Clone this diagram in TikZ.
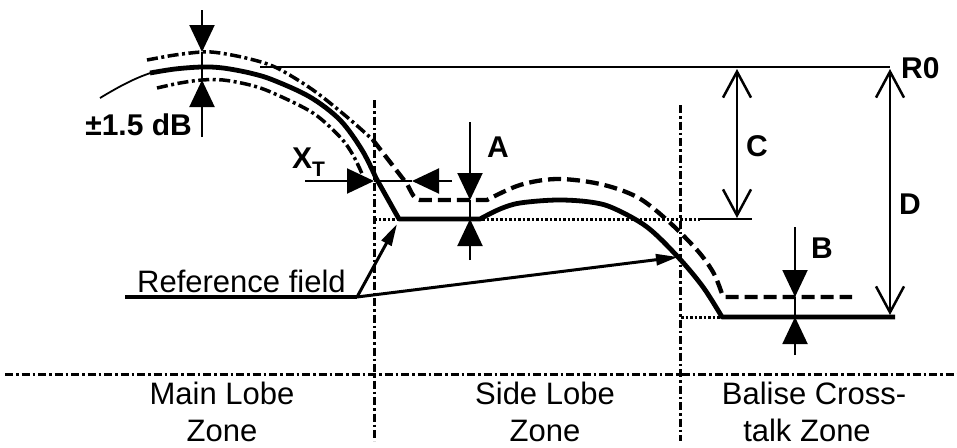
\documentclass[tikz,border=0pt]{standalone}
\usepackage{fontspec}
\setmainfont{Liberation Sans}
\usetikzlibrary{arrows.meta}
\begin{document}
\begin{tikzpicture}[x=1pt,y=-1pt,
  mainline/.style={line width=4.8pt,line join=round},
  thinline/.style={line width=1.8pt},
  envline/.style={line width=3.5pt,dash pattern=on 11pt off 3.5pt on 3pt off 3.5pt},
  dashline/.style={line width=4.3pt,dash pattern=on 13pt off 6pt,line join=round},
  zoneline/.style={line width=3pt,dash pattern=on 8pt off 3pt on 2.5pt off 3pt},
  dotline/.style={line width=3pt,dash pattern=on 2.5pt off 2pt},
  dimline/.style={line width=2pt,-{Triangle[length=27pt,width=25pt]}},
  linkline/.style={line width=2pt},
  openarrow/.style={line width=2.5pt,{Straight Barb[length=26pt,width=28pt]}-{Straight Barb[length=26pt,width=28pt]}},
  refarrow/.style={line width=3pt,-{Triangle[length=22pt,width=11pt]}},
  lbl/.style={font=\fontsize{30}{32}\selectfont\bfseries,inner sep=0pt},
  zonetext/.style={font=\fontsize{31}{36}\selectfont,inner sep=0pt,anchor=base},
  reftext/.style={font=\fontsize{31}{36}\selectfont,inner sep=0pt,anchor=base west}]
\useasboundingbox (0,0) rectangle (957,447);

% zone separators
\coordinate (zl1) at (5,374);  \coordinate (zl2) at (957,374);
\coordinate (v1a) at (374,100); \coordinate (v1b) at (374,441);
\coordinate (v2a) at (680,105); \coordinate (v2b) at (680,441);
\draw[zoneline] (zl1) -- (zl2);
\draw[zoneline] (v1a) -- (v1b);
\draw[zoneline] (v2a) -- (v2b);

% reference levels
\coordinate (r0a) at (260,67); \coordinate (r0b) at (890,67);
\draw[linkline] (r0a) -- (r0b);
\coordinate (d1a) at (374,219); \coordinate (d1b) at (700,219); \coordinate (d1c) at (752,219);
\draw[dotline] (d1a) -- (d1b);
\draw[linkline] (d1b) -- (d1c);
\coordinate (d2a) at (681,317); \coordinate (d2b) at (722,317);
\draw[dotline] (d2a) -- (d2b);

% tolerance envelope
\draw[envline] plot[smooth,tension=0.55] coordinates {(147,60)(175,55)(202,52)(220,53)(250,59)(277,68)(313,90)(347,117)(373,140)};
\draw[envline] plot[smooth,tension=0.55] coordinates {(157,88)(180,83)(202,80)(223,80)(250,85)(273,93)(313,113)(340,137)(353,155)(363,176)};

% dashed limit curve
\draw[dashline] (373,140) -- (407,184) .. controls (412,193) and (414,200) .. (420,200) -- (487,200)
  -- plot[smooth,tension=0.55] coordinates {(487,200)(520,185)(557,179)(600,184)(637,197)(667,220)(697,250)(713,272)(721,291)}
  .. controls (723,297) .. (729,297) -- (852,297);

% main field curve
\draw[thinline] (100,98) .. controls (120,86) and (135,78) .. (152,72.5);
\draw[mainline] plot[smooth,tension=0.55] coordinates {(150,73)(175,69)(202,67)(223,68)(250,73)(273,80)(310,97)(340,120)(362,150)(376,178)}
  -- (399,219) -- (480,219)
  -- plot[smooth,tension=0.55] coordinates {(480,219)(500,209)(520,203)(557,200)(590,202)(613,208)(647,227)(678,257)(703,287)(722,317)}
  -- (895,317);

% +-1.5 dB
\coordinate (pt0) at (202,10); \coordinate (pt1) at (202,52);
\coordinate (pb0) at (202,137); \coordinate (pb1) at (202,80);
\draw[dimline] (pt0) -- (pt1);
\draw[dimline] (pb0) -- (pb1);
\draw[linkline] (pt1) -- (pb1);
\node[lbl,anchor=base east] (pmlbl) at (192,135) {±1.5 dB};

% X_T
\coordinate (xl0) at (305,181); \coordinate (xl1) at (374,181);
\coordinate (xr0) at (452,181); \coordinate (xr1) at (412,181);
\draw[dimline] (xl0) -- (xl1);
\draw[dimline] (xr0) -- (xr1);
\draw[linkline] (xl1) -- (xr1);
\node[lbl,anchor=base west] (xlbl) at (292,168) {X\raisebox{-8pt}{\fontsize{21}{22}\selectfont T}};

% A
\coordinate (at0) at (470,122); \coordinate (at1) at (470,200);
\coordinate (ab0) at (470,260); \coordinate (ab1) at (470,219);
\draw[dimline] (at0) -- (at1);
\draw[dimline] (ab0) -- (ab1);
\draw[linkline] (at1) -- (ab1);
\node[lbl] (albl) at (498,147) {A};

% B
\coordinate (bt0) at (795,227); \coordinate (bt1) at (795,297);
\coordinate (bb0) at (795,355); \coordinate (bb1) at (795,317);
\draw[dimline] (bt0) -- (bt1);
\draw[dimline] (bb0) -- (bb1);
\draw[linkline] (bt1) -- (bb1);
\node[lbl] (blbl) at (822,248) {B};

% C and D
\coordinate (c0) at (737,69); \coordinate (c1) at (737,218);
\draw[openarrow] (c0) -- (c1);
\node[lbl] (clbl) at (757,146) {C};
\coordinate (dd0) at (890,69); \coordinate (dd1) at (890,315);
\draw[openarrow] (dd0) -- (dd1);
\node[lbl] (dlbl) at (910,204) {D};
\node[lbl,anchor=base west] (r0lbl) at (901,78) {R0};

% reference field
\node[reftext] (reflbl) at (137,292) {Reference field};
\coordinate (u0) at (125,297); \coordinate (u1) at (357,297);
\coordinate (ra) at (397,224); \coordinate (rb) at (678,257);
\draw[line width=3.4pt] (u0) -- (u1);
\draw[refarrow] (u1) -- (ra);
\draw[refarrow] (u1) -- (rb);

% zone labels
\node[zonetext] (z1a) at (222,404) {Main Lobe};
\node[zonetext] (z1b) at (222,441) {Zone};
\node[zonetext] (z2a) at (545,404) {Side Lobe};
\node[zonetext] (z2b) at (545,441) {Zone};
\node[zonetext] (z3a) at (814,404) {Balise Cross-};
\node[zonetext] (z3b) at (807,441) {talk Zone};
\end{tikzpicture}
\end{document}
